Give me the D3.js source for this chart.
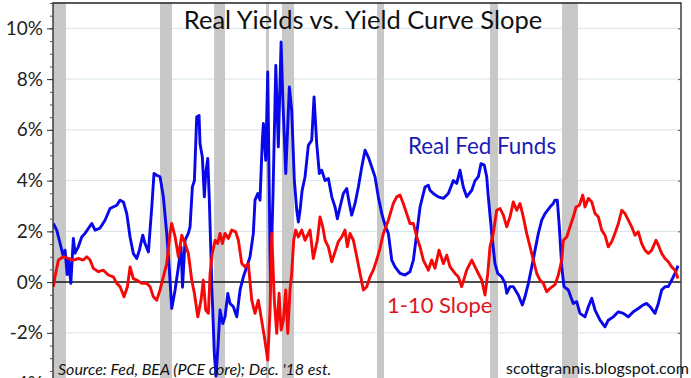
<!DOCTYPE html>
<html>
  <head>
    <meta http-equiv="Content-Type" content="text/html;charset=utf-8"/>
    <title>Real Yields vs. Yield Curve Slope</title>
    <script src="https://d3js.org/d3.v7.min.js"></script>
  </head>
  <body>
    <div id="content"></div>
    <style>
      body { margin: 0; background: #fff; }
      #content { position: relative; }
      svg text { font-family: Lato, "Noto Sans", sans-serif; }
    </style>
    <script type="text/javascript">

        // real fed funds rate (%)
        const blueYears = [1959.93, 1960.25, 1960.57, 1960.88, 1961.04, 1961.23, 1961.37, 1961.58, 1961.82, 1961.98,
            1962.29, 1962.61, 1962.92, 1963.56, 1963.87, 1964.34, 1964.81, 1965.28, 1965.92, 1966.23,
            1966.54, 1966.86, 1967.17, 1967.48, 1967.8, 1968.05, 1968.37, 1968.58, 1968.9, 1969.22,
            1969.43, 1969.69, 1970.0, 1970.31, 1970.63, 1970.88, 1971.1, 1971.42, 1971.73, 1971.98,
            1972.12, 1972.36, 1972.67, 1972.83, 1973.05, 1973.24, 1973.46, 1973.68, 1973.77, 1973.99,
            1974.18, 1974.31, 1974.5, 1974.65, 1974.88, 1975.12, 1975.28, 1975.47, 1975.66, 1975.92,
            1976.13, 1976.39, 1976.6, 1976.92, 1977.24, 1977.55, 1977.86, 1978.18, 1978.49, 1978.8,
            1978.96, 1979.22, 1979.43, 1979.65, 1979.75, 1979.97, 1980.16, 1980.42, 1980.66, 1980.92,
            1981.16, 1981.42, 1981.6, 1981.86, 1982.2, 1982.42, 1982.67, 1982.9, 1983.05, 1983.21,
            1983.4, 1983.68, 1983.99, 1984.31, 1984.53, 1984.78, 1985.03, 1985.25, 1985.57, 1985.88,
            1986.2, 1986.51, 1986.73, 1986.98, 1987.29, 1987.61, 1987.86, 1988.08, 1988.4, 1988.71,
            1989.03, 1989.34, 1989.65, 1989.97, 1990.28, 1990.59, 1990.92, 1991.23, 1991.54, 1991.86,
            1992.17, 1992.64, 1993.11, 1993.58, 1993.9, 1994.22, 1994.53, 1995.0, 1995.31, 1995.47,
            1995.78, 1996.25, 1996.73, 1997.2, 1997.67, 1997.99, 1998.3, 1998.61, 1998.93, 1999.41,
            1999.72, 2000.03, 2000.28, 2000.59, 2000.82, 2000.97, 2001.29, 2001.6, 2001.86, 2002.24,
            2002.55, 2002.71, 2003.02, 2003.33, 2003.8, 2004.18, 2004.43, 2004.75, 2005.07, 2005.38,
            2005.69, 2006.01, 2006.32, 2006.79, 2007.1, 2007.26, 2007.48, 2007.67, 2007.9, 2008.11,
            2008.52, 2008.75, 2008.99, 2009.31, 2009.62, 2010.09, 2010.41, 2010.73, 2011.04, 2011.51,
            2011.98, 2012.29, 2012.76, 2013.24, 2013.71, 2014.18, 2014.65, 2015.12, 2015.59, 2015.92,
            2016.23, 2016.7, 2017.01, 2017.33, 2017.64, 2017.95, 2018.27, 2018.58, 2018.87]
        const blueValues = [2.31, 2.05, 1.53, 1.0, 1.26, 0.3, 0.9, -0.05, 1.72, 1.14,
            1.39, 1.78, 1.92, 2.31, 2.05, 2.13, 2.44, 2.9, 3.03, 3.23,
            3.16, 2.7, 1.78, 1.13, 0.93, 1.26, 1.85, 1.52, 1.19, 2.96,
            4.28, 4.21, 4.15, 3.36, 1.92, 0.47, -1.04, -0.31, 0.6, 1.39,
            -0.2, 1.65, 1.92, 2.18, 3.75, 4.0, 6.51, 6.57, 5.46, 4.93,
            3.36, 4.28, 4.87, 3.23, -0.05, -2.81, -3.7, -2.5, -1.1, -1.63,
            -1.37, -0.45, -0.84, -0.97, -1.37, -0.31, 0.21, 0.6, 1.0, 1.92,
            3.23, 3.49, 3.23, 5.59, 6.25, 4.8, 8.28, -0.2, 3.5, 8.54,
            5.33, 9.46, 7.0, 4.28, 7.69, 6.77, 4.0, 2.83, 2.37, 2.83,
            3.6, 4.15, 5.39, 5.59, 7.3, 5.46, 4.28, 4.41, 4.0, 4.08,
            3.36, 2.96, 2.5, 2.96, 3.49, 3.69, 3.1, 2.64, 3.1, 3.75,
            4.54, 5.2, 4.93, 4.54, 4.15, 3.36, 2.7, 2.24, 1.92, 0.87,
            0.6, 0.34, 0.28, 0.41, 0.87, 1.92, 2.96, 3.75, 3.82, 3.62,
            3.49, 3.36, 3.3, 3.49, 4.0, 3.89, 4.41, 3.75, 3.36, 3.62,
            4.0, 4.15, 4.67, 4.61, 4.15, 3.36, 1.92, 0.73, 0.34, 0.21,
            -0.05, -0.44, -0.18, -0.18, -0.51, -0.9, -0.58, -0.05, 0.6, 1.26,
            1.92, 2.44, 2.7, 2.96, 3.1, 3.23, 3.23, 2.18, 0.6, -0.18,
            -0.31, -0.58, -0.84, -0.77, -1.23, -1.37, -0.97, -0.64, -1.1, -1.5,
            -1.76, -1.5, -1.37, -1.17, -1.23, -1.37, -1.17, -1.04, -0.9, -0.84,
            -0.97, -1.23, -0.84, -0.31, -0.18, -0.18, 0.08, 0.34, 0.65]

        // 1-10 year treasury slope (%)
        const redYears = [1959.93, 1960.09, 1960.41, 1960.88, 1961.35, 1961.82, 1962.29, 1962.76, 1963.08, 1963.4,
            1963.71, 1964.18, 1964.65, 1965.12, 1965.59, 1965.92, 1966.23, 1966.6, 1966.92, 1967.17,
            1967.48, 1967.8, 1968.27, 1968.75, 1969.06, 1969.37, 1969.69, 1970.0, 1970.31, 1970.63,
            1970.94, 1971.1, 1971.42, 1971.73, 1972.05, 1972.36, 1972.67, 1972.99, 1973.24, 1973.56,
            1973.87, 1974.08, 1974.31, 1974.56, 1974.72, 1974.93, 1975.19, 1975.44, 1975.66, 1975.88,
            1976.13, 1976.44, 1976.76, 1977.14, 1977.39, 1977.71, 1978.02, 1978.33, 1978.65, 1978.96,
            1979.27, 1979.53, 1979.84, 1980.16, 1980.38, 1980.54, 1980.78, 1981.01, 1981.23, 1981.42,
            1981.63, 1981.86, 1982.05, 1982.26, 1982.42, 1982.61, 1982.8, 1983.05, 1983.37, 1983.68,
            1984.15, 1984.46, 1984.84, 1985.09, 1985.35, 1985.57, 1985.88, 1986.2, 1986.51, 1986.82,
            1987.14, 1987.45, 1987.67, 1987.92, 1988.24, 1988.56, 1988.87, 1989.18, 1989.5, 1989.81,
            1990.12, 1990.44, 1990.75, 1991.07, 1991.54, 1992.01, 1992.33, 1992.64, 1992.95, 1993.27,
            1993.58, 1993.9, 1994.22, 1994.53, 1994.84, 1995.16, 1995.31, 1995.63, 1995.94, 1996.32,
            1996.73, 1997.05, 1997.36, 1997.83, 1998.14, 1998.46, 1998.93, 1999.41, 1999.72, 2000.03,
            2000.35, 2000.66, 2000.92, 2001.13, 2001.44, 2001.76, 2002.08, 2002.39, 2002.71, 2003.02,
            2003.33, 2003.65, 2003.96, 2004.27, 2004.59, 2004.91, 2005.22, 2005.54, 2005.85, 2006.16,
            2006.48, 2006.79, 2007.26, 2007.58, 2007.9, 2008.05, 2008.37, 2008.68, 2008.99, 2009.25,
            2009.56, 2009.88, 2010.09, 2010.41, 2010.73, 2011.04, 2011.35, 2011.67, 2011.98, 2012.29,
            2012.61, 2012.92, 2013.24, 2013.56, 2013.87, 2014.18, 2014.5, 2014.81, 2015.12, 2015.44,
            2015.75, 2016.07, 2016.39, 2016.79, 2017.01, 2017.33, 2017.64, 2017.95, 2018.27, 2018.58,
            2018.87]
        const redValues = [-0.18, 0.21, 0.87, 1.0, 0.93, 0.87, 0.93, 0.87, 1.0, 0.87,
            0.54, 0.41, 0.47, 0.28, 0.21, -0.05, -0.18, -0.58, -0.18, 0.6,
            0.14, 0.08, -0.05, -0.05, -0.18, -0.58, -0.71, -0.31, 0.21, 0.73,
            1.92, 2.31, 1.78, 1.0, 1.85, 1.52, 1.13, 0.08, -0.44, -1.37,
            -0.71, 0.08, -1.1, -1.23, 0.34, 1.13, 1.65, 1.52, 1.92, 1.52,
            1.92, 1.72, 2.05, 1.98, 1.65, 0.73, 0.6, 0.73, -0.71, -1.23,
            -0.71, -1.37, -2.15, -3.07, -1.1, 1.92, -0.71, -2.02, -0.44, -1.89,
            -1.5, -0.31, -2.02, -0.31, 0.34, 1.65, 2.05, 1.78, 2.05, 1.65,
            2.05, 0.93, 1.65, 2.57, 2.18, 1.65, 1.39, 0.8, 1.19, 1.59,
            1.78, 2.05, 1.39, 1.92, 1.65, 1.0, 0.34, -0.31, -0.18, 0.21,
            0.47, 0.87, 1.33, 1.92, 2.44, 3.1, 3.36, 3.43, 3.1, 2.7,
            2.31, 2.31, 1.78, 1.39, 0.87, 0.6, 0.47, 0.87, 0.55, 1.26,
            0.73, 1.06, 0.6, 0.34, 0.21, -0.18, 0.47, 0.87, 0.6, 0.34,
            0.08, -0.51, 0.34, 1.39, 1.92, 2.83, 2.9, 2.64, 2.18, 2.57,
            3.16, 2.83, 3.1, 2.57, 1.92, 1.39, 0.87, 0.34, 0.08, -0.05,
            -0.38, -0.25, -0.1, 0.28, 0.87, 1.65, 1.78, 2.18, 2.57, 2.96,
            3.03, 3.43, 2.96, 3.3, 3.16, 2.7, 2.57, 2.05, 1.85, 1.39,
            1.59, 1.92, 2.31, 2.83, 2.7, 2.44, 2.18, 1.85, 1.98, 1.52,
            1.26, 1.13, 1.26, 1.65, 1.46, 1.13, 0.93, 0.8, 0.6, 0.47,
            0.14]

        // recession shading, as drawn on the chart
        const recessionStarts = [1959.9, 1970.0, 1975.1, 1980.0, 1981.5, 1990.47, 2001.13, 2007.92]
        const recessionEnds   = [1961.13, 1971.13, 1976.13, 1980.28, 1982.64, 1991.13, 2001.89, 2009.43]

        const yTicks = [-4, -2, 0, 2, 4, 6, 8, 10]
        const yMinorTicks = d3.range(-4, 11.01, 0.5)

        const width = 691,
            height = 378
        const plotLeft = 53, plotRight = 681, plotTop = 3, plotBottom = 383.6

        const svg = d3.select("#content").append("svg")
            .attr("width", width)
            .attr("height", height)

        const x = d3.scaleLinear().domain([1959.9, 2019.15]).range([plotLeft, plotRight])
        const y = d3.scaleLinear().domain([-4, 11]).range([plotBottom, plotTop])

        svg.append("clipPath").attr("id", "plot")
            .append("rect")
            .attr("x", plotLeft).attr("y", plotTop)
            .attr("width", plotRight - plotLeft).attr("height", plotBottom - plotTop)

        // grid
        svg.append("g")
            .selectAll("line")
            .data(yTicks.filter(d => d !== 0))
            .enter()
            .append("line")
            .attr("x1", plotLeft).attr("x2", plotRight)
            .attr("y1", d => y(d)).attr("y2", d => y(d))
            .attr("stroke", "#d6e2ea")
            .attr("stroke-width", 1)

        // recession bars
        svg.append("g")
            .selectAll("rect")
            .data(recessionStarts.map((s, i) => [s, recessionEnds[i]]))
            .enter()
            .append("rect")
            .attr("x", d => x(d[0]))
            .attr("width", d => x(d[1]) - x(d[0]))
            .attr("y", plotTop)
            .attr("height", plotBottom - plotTop)
            .attr("fill", "#c8c8c8")

        // zero line
        svg.append("line")
            .attr("x1", plotLeft).attr("x2", plotRight)
            .attr("y1", y(0)).attr("y2", y(0))
            .attr("stroke", "#111")
            .attr("stroke-width", 1.5)

        const line = d3.line()
            .x(d => x(d[0]))
            .y(d => y(d[1]))

        const plot = svg.append("g").attr("clip-path", "url(#plot)")

        plot.append("path")
            .datum(blueYears.map((t, i) => [t, blueValues[i]]))
            .attr("d", line)
            .attr("fill", "none")
            .attr("stroke", "#0808ea")
            .attr("stroke-width", 2.9)
            .attr("stroke-linejoin", "round")

        plot.append("path")
            .datum(redYears.map((t, i) => [t, redValues[i]]))
            .attr("d", line)
            .attr("fill", "none")
            .attr("stroke", "#f50808")
            .attr("stroke-width", 2.9)
            .attr("stroke-linejoin", "round")

        // frame
        svg.append("path")
            .attr("d", `M${plotLeft},${plotBottom + 10}V${plotTop}H${plotRight}V${plotBottom + 10}`)
            .attr("fill", "none")
            .attr("stroke", "#222")
            .attr("stroke-width", 1.3)

        // y axis
        const minorAxis = d3.axisLeft(y).tickValues(yMinorTicks).tickSize(3).tickFormat("")
        svg.append("g")
            .attr("transform", `translate(${plotLeft},0)`)
            .call(minorAxis)
            .call(g => g.select(".domain").remove())
            .call(g => g.selectAll("line").attr("stroke", "#555"))

        const yAxis = d3.axisLeft(y).tickValues(yTicks).tickSize(6).tickPadding(4).tickFormat(d => d + "%")
        svg.append("g")
            .attr("transform", `translate(${plotLeft},0)`)
            .call(yAxis)
            .call(g => g.select(".domain").remove())
            .call(g => g.selectAll("line").attr("stroke", "#333"))
            .call(g => g.selectAll("text")
                .attr("font-size", 19)
                .attr("fill", "#222")
                .style("font-family", "Lato, sans-serif"))

        // small inner ticks on the right frame
        const rightAxis = d3.axisLeft(y).tickValues(yTicks).tickSize(3).tickFormat("")
        svg.append("g")
            .attr("transform", `translate(${plotRight},0)`)
            .call(rightAxis)
            .call(g => g.select(".domain").remove())
            .call(g => g.selectAll("line").attr("stroke", "#555"))

        // texts
        svg.append("text")
            .attr("x", 363).attr("y", 29)
            .attr("text-anchor", "middle")
            .attr("font-size", 25.5)
            .attr("fill", "#111")
            .text("Real Yields vs. Yield Curve Slope")

        svg.append("text")
            .attr("x", 408).attr("y", 154)
            .attr("font-size", 22.4)
            .attr("fill", "#1c1cb4")
            .text("Real Fed Funds")

        svg.append("text")
            .attr("x", 387).attr("y", 313)
            .attr("font-size", 22)
            .attr("fill", "#e0141e")
            .text("1-10 Slope")

        svg.append("text")
            .attr("x", 58).attr("y", 375)
            .attr("font-size", 16)
            .attr("font-style", "italic")
            .attr("fill", "#111")
            .text("Source: Fed, BEA (PCE core); Dec. '18 est.")

        svg.append("text")
            .attr("x", 506).attr("y", 374)
            .attr("font-size", 16)
            .attr("fill", "#111")
            .text("scottgrannis.blogspot.com")

    </script>
  </body>
</html>
